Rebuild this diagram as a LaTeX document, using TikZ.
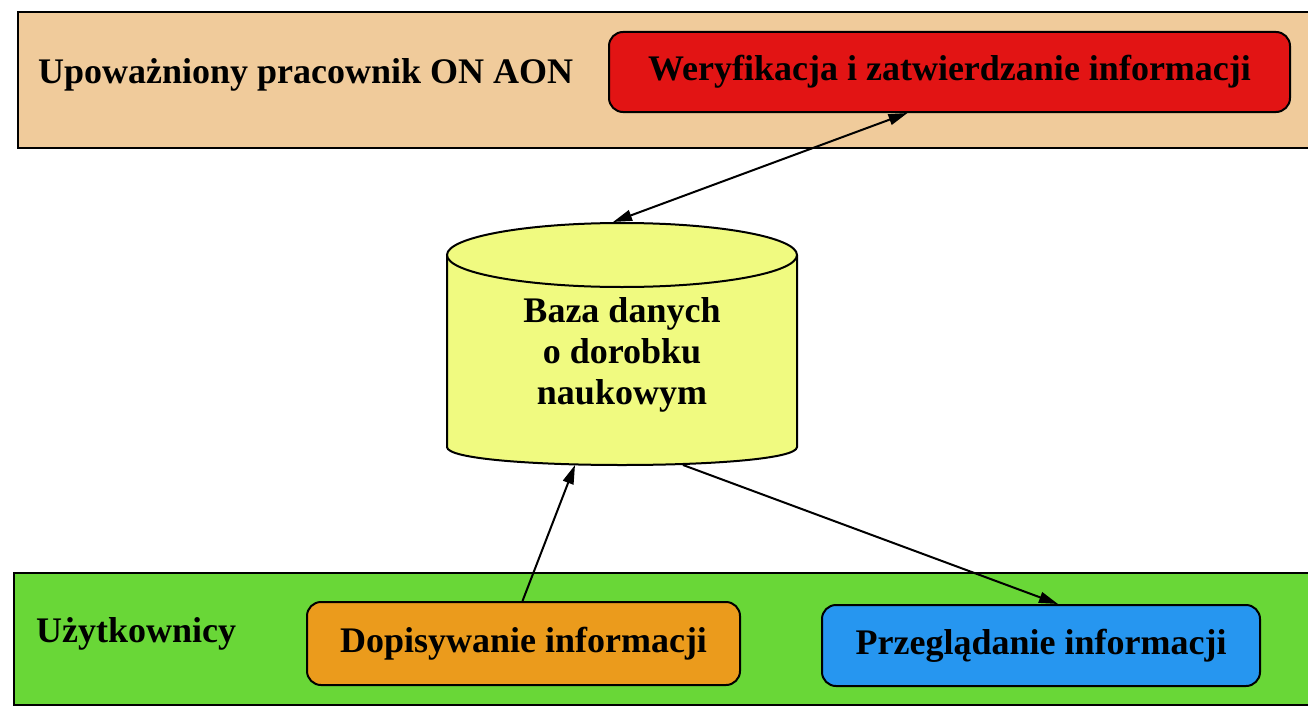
\documentclass[tikz,border=0pt]{standalone}
\usepackage{fontspec}
\setmainfont{Liberation Serif}
\usetikzlibrary{arrows.meta}

\definecolor{bandtan}{RGB}{240,203,155}
\definecolor{bandgreen}{RGB}{105,215,55}
\definecolor{boxred}{RGB}{226,20,20}
\definecolor{boxorange}{RGB}{235,155,28}
\definecolor{boxblue}{RGB}{38,150,240}
\definecolor{dbyellow}{RGB}{240,250,128}

\tikzset{
  band/.style={draw=black, line width=2pt},
  actbox/.style={draw=black, line width=2pt, rounded corners=14pt,
    inner sep=0pt, font=\fontsize{36}{40}\selectfont\bfseries},
  lbl/.style={anchor=west, inner sep=0pt, font=\fontsize{36}{40}\selectfont\bfseries},
  link/.style={line width=2pt, draw=black},
  tip/.tip={Triangle[length=19pt, width=11pt]}
}

\begin{document}
\begin{tikzpicture}[x=1pt, y=-1pt]
  \clip (0,0) rectangle (1308,709);
  \fill[white] (0,0) rectangle (1308,709);

  % top band: authorised staff
  \draw[band, fill=bandtan] (18,12) rectangle (1320,148);
  \node[lbl] (staff) at (38,75) {Upoważniony pracownik ON AON};
  \node[actbox, fill=boxred, minimum width=681pt, minimum height=80pt]
    (verify) at (949.5,72) {Weryfikacja i zatwierdzanie informacji};

  % bottom band: users
  \draw[band, fill=bandgreen] (14,573) rectangle (1320,705);
  \node[lbl] (users) at (36,634) {Użytkownicy};
  \node[actbox, fill=boxorange, minimum width=433pt, minimum height=83pt]
    (add) at (523.5,643.5) {Dopisywanie informacji};
  \node[actbox, fill=boxblue, minimum width=438pt, minimum height=81pt]
    (browse) at (1041,645.5) {Przeglądanie informacji};

  % database cylinder
  \draw[line width=2pt, fill=dbyellow]
    (447,255) -- (447,447)
    .. controls (447,471) and (797,471) .. (797,447)
    -- (797,255);
  \draw[line width=2pt, fill=dbyellow] (622,255) ellipse [x radius=175, y radius=32];
  \node[align=center, inner sep=0pt, font=\fontsize{36}{41}\selectfont\bfseries]
    (db) at (622,355) {Baza danych\\o dorobku\\naukowym};
  \coordinate (dbtop) at (613,222);
  \coordinate (dbin) at (575,465);
  \coordinate (dbout) at (683,465);

  % connectors
  \draw[link, tip-tip] ([xshift=-42pt]verify.south) -- (dbtop);
  \draw[link, -tip] ([xshift=-1pt]add.north) -- (dbin);
  \draw[link, -tip] (dbout) -- ([xshift=17pt]browse.north);
\end{tikzpicture}
\end{document}
